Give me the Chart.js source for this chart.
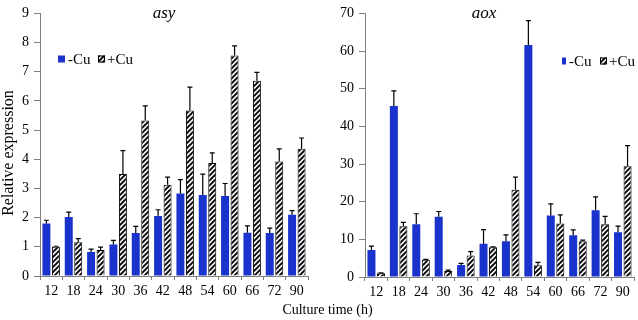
<!DOCTYPE html>
<html>
<head>
<meta charset="utf-8">
<script src="https://cdn.jsdelivr.net/npm/chart.js@4/dist/chart.umd.min.js"></script>
<style>
  html, body { margin:0; padding:0; background:#fff; }
  body { width:638px; height:320px; position:relative; overflow:hidden; }
  .wrap { position:absolute; top:0; height:320px; }
  #xtitle { position:absolute; left:0; width:655px; top:302px; line-height:16px; text-align:center;
            font-family:'Liberation Serif','Times New Roman',serif; font-size:14px; color:#000; }
</style>
</head>
<body>
<div class="wrap" style="left:0;width:318px"><canvas id="c1"></canvas></div>
<div class="wrap" style="left:318px;width:320px"><canvas id="c2"></canvas></div>
<div id="xtitle">Culture time (h)</div>
<script>
// ---- data ----
const categories = ['12','18','24','30','36','42','48','54','60','66','72','90'];
const seriesNames = ['-Cu', '+Cu'];

const asyMinusCu = [1.80, 2.02, 0.82, 1.08, 1.47, 2.06, 2.83, 2.78, 2.74, 1.48, 1.47, 2.10];
const asyMinusCuErr = [0.11, 0.17, 0.10, 0.14, 0.23, 0.21, 0.47, 0.71, 0.43, 0.24, 0.17, 0.14];
const asyPlusCu = [1.00, 1.16, 0.89, 3.50, 5.33, 3.13, 5.67, 3.87, 7.56, 6.69, 3.92, 4.36];
const asyPlusCuErr = [0.02, 0.12, 0.10, 0.80, 0.50, 0.26, 0.80, 0.35, 0.33, 0.29, 0.44, 0.37];

const aoxMinusCu = [7.2, 45.4, 14.0, 16.0, 3.2, 8.8, 9.5, 61.6, 16.3, 11.1, 17.7, 11.9];
const aoxMinusCuErr = [1.0, 4.0, 2.8, 1.4, 0.4, 3.8, 1.7, 6.5, 3.1, 1.4, 3.6, 1.6];
const aoxPlusCu = [1.0, 13.5, 4.6, 1.6, 5.7, 7.9, 23.2, 3.1, 14.2, 9.5, 14.0, 29.4];
const aoxPlusCuErr = [0.1, 1.0, 0.1, 0.2, 1.05, 0.1, 3.3, 0.8, 2.3, 0.3, 2.1, 5.5];

const FONT = "'Liberation Serif','Times New Roman',serif";
const BLUE = '#1a33cc';
const AXIS = '#808080';

function makeHatch() {
  const s = 5;
  const c = document.createElement('canvas');
  c.width = s; c.height = s;
  const g = c.getContext('2d');
  g.fillStyle = '#f6f3fa';
  g.fillRect(0, 0, s, s);
  g.strokeStyle = '#000';
  g.lineWidth = 1.9;
  g.beginPath();
  g.moveTo(-1, s + 1); g.lineTo(s + 1, -1);
  g.moveTo(-1, 1); g.lineTo(1, -1);
  g.moveTo(s - 1, s + 1); g.lineTo(s + 1, s - 1);
  g.stroke();
  return g.createPattern(c, 'repeat');
}
const hatch = makeHatch();

const decoPlugin = {
  id: 'deco',
  afterDatasetsDraw(chart, args, opts) {
    const ctx = chart.ctx;
    const yScale = chart.scales.y;
    ctx.save();
    // error bars
    ctx.strokeStyle = '#000';
    ctx.lineWidth = 1.2;
    chart.data.datasets.forEach((ds, i) => {
      const meta = chart.getDatasetMeta(i);
      const errs = opts.errors[i];
      meta.data.forEach((el, j) => {
        const top = yScale.getPixelForValue(ds.data[j] + errs[j]);
        ctx.beginPath();
        ctx.moveTo(el.x, el.y);
        ctx.lineTo(el.x, top);
        ctx.moveTo(el.x - 2.5, top);
        ctx.lineTo(el.x + 2.5, top);
        ctx.stroke();
      });
    });
    // title
    ctx.fillStyle = '#000';
    ctx.font = 'italic 17px ' + FONT;
    ctx.textAlign = 'center';
    ctx.textBaseline = 'middle';
    ctx.fillText(opts.title, opts.titleX, opts.titleY);
    // legend
    const lx = opts.legendX, ly = opts.legendY;
    ctx.font = '15px ' + FONT;
    ctx.textAlign = 'left';
    ctx.fillStyle = BLUE;
    ctx.fillRect(lx, ly - 3.5, opts.boxW, 7);
    ctx.fillStyle = '#000';
    ctx.fillText(seriesNames[0], lx + opts.boxW + 3, ly + 1);
    const hx = lx + opts.gap;
    ctx.fillStyle = hatch;
    ctx.fillRect(hx, ly - 3.5, 7, 7);
    ctx.strokeStyle = '#000';
    ctx.lineWidth = 1;
    ctx.strokeRect(hx + 0.5, ly - 3, 6, 6);
    ctx.fillStyle = '#000';
    ctx.fillText(seriesNames[1], hx + 9, ly + 1);
    // y title
    if (opts.yTitle) {
      ctx.save();
      ctx.translate(opts.yTitleX, opts.yTitleY);
      ctx.rotate(-Math.PI / 2);
      ctx.font = '16px ' + FONT;
      ctx.textAlign = 'center';
      ctx.textBaseline = 'middle';
      ctx.fillText(opts.yTitle, 0, 0);
      ctx.restore();
    }
    ctx.restore();
  }
};

function makeChart(id, a, b, ea, eb, yMax, step, yWidth, xHeight, pad, deco) {
  return new Chart(document.getElementById(id), {
    type: 'bar',
    data: {
      labels: categories,
      datasets: [
        { label: seriesNames[0], data: a, backgroundColor: BLUE, borderWidth: 0,
          barPercentage: 0.84, categoryPercentage: 0.85 },
        { label: seriesNames[1], data: b, backgroundColor: hatch, borderColor: '#000', borderWidth: 1,
          barPercentage: 0.84, categoryPercentage: 0.85 }
      ]
    },
    options: {
      responsive: true,
      maintainAspectRatio: false,
      animation: false,
      layout: { padding: pad },
      plugins: {
        legend: { display: false },
        tooltip: { enabled: false },
        deco: Object.assign({ errors: [ea, eb] }, deco)
      },
      scales: {
        x: {
          grid: { drawOnChartArea: false, tickLength: 4, color: AXIS, offset: true },
          border: { color: AXIS, width: 1 },
          ticks: { font: { family: FONT, size: 14 }, color: '#000', padding: 3, maxRotation: 0, autoSkip: false },
          afterFit: s => { s.height = xHeight; }
        },
        y: {
          min: 0, max: yMax,
          grid: { drawOnChartArea: false, tickLength: 6, color: AXIS },
          border: { color: AXIS, width: 1 },
          ticks: { stepSize: step, font: { family: FONT, size: 14 }, color: '#000', padding: 5 },
          afterFit: s => { s.width = yWidth; }
        }
      }
    },
    plugins: [decoPlugin]
  });
}

makeChart('c1', asyMinusCu, asyPlusCu, asyMinusCuErr, asyPlusCuErr, 9, 1, 40, 44,
  { top: 6, right: 10, left: 0, bottom: 0 },
  { title: 'asy', titleX: 164, titleY: 14, legendX: 58, legendY: 59, boxW: 7, gap: 40,
    yTitle: 'Relative expression', yTitleX: 9, yTitleY: 153 });

makeChart('c2', aoxMinusCu, aoxPlusCu, aoxMinusCuErr, aoxPlusCuErr, 70, 10, 47, 43,
  { top: 11, right: 4, left: 0, bottom: 0 },
  { title: 'aox', titleX: 166, titleY: 14, legendX: 244, legendY: 61, boxW: 4, gap: 38,
    yTitle: null });
</script>
</body>
</html>
